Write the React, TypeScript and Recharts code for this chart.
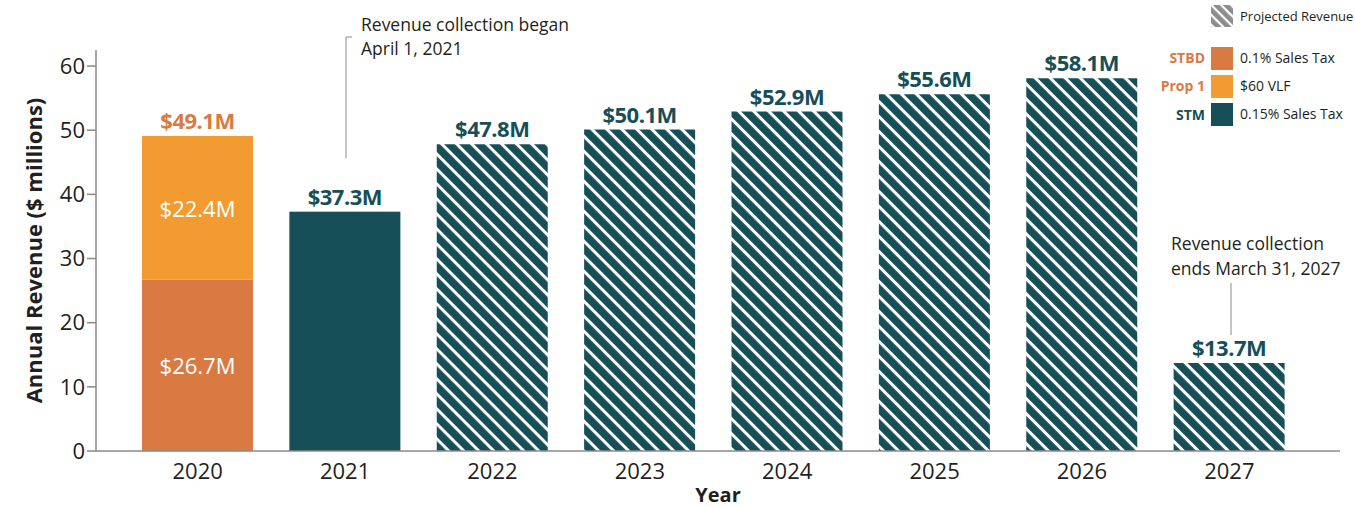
import { BarChart, Bar, XAxis, YAxis, LabelList, Label } from 'recharts'

const years = ['2020', '2021', '2022', '2023', '2024', '2025', '2026', '2027']
const stbdSalesTax = [26.7, null, null, null, null, null, null, null]
const prop1Vlf = [22.4, null, null, null, null, null, null, null]
const stmActual = [null, 37.3, null, null, null, null, null, null]
const stmProjected = [null, null, 47.8, 50.1, 52.9, 55.6, 58.1, 13.7]
const yTicks = [0, 10, 20, 30, 40, 50, 60]

const DARK_ORANGE = '#D97A43'
const LIGHT_ORANGE = '#F19B30'
const TEAL = '#164F58'
const FONT = '"Open Sans", "Noto Sans", sans-serif'

const data = years.map((year, i) => ({
  year,
  stbd: stbdSalesTax[i],
  vlf: prop1Vlf[i],
  stm: stmActual[i],
  projected: stmProjected[i],
  total: stbdSalesTax[i] != null && prop1Vlf[i] != null ? +(stbdSalesTax[i]! + prop1Vlf[i]!).toFixed(1) : null,
}))

const money = (v: number) => `$${v.toFixed(1)}M`

function TopLabel(color: string) {
  return (p: any) => {
    if (p.value == null) return null
    return (
      <text x={p.x + p.width / 2} y={p.y - 7} textAnchor="middle" fill={color}
        fontFamily={FONT} fontWeight={700} fontSize={22} letterSpacing={-0.5}>
        {money(Number(p.value))}
      </text>
    )
  }
}

function InnerLabel(p: any) {
  if (p.value == null) return null
  return (
    <text x={p.x + p.width / 2} y={p.y + p.height / 2} textAnchor="middle" dominantBaseline="central"
      fill="#fff" fontFamily={FONT} fontSize={22}>
      {money(Number(p.value))}
    </text>
  )
}

// 2021 bar sits slightly past the axis line in the source
function ActualShape(p: any) {
  if (!p.height) return null
  return <rect x={p.x} y={p.y} width={p.width} height={p.height + 4} fill={TEAL} />
}

export default function App() {
  return (
    <div style={{ position: 'absolute', left: 0, top: 0, width: 1355, height: 507, background: '#fff', fontFamily: FONT }}>
      <svg width={0} height={0} style={{ position: 'absolute' }}>
        <defs>
          <pattern id="hatch" width={10.6} height={10.6} patternUnits="userSpaceOnUse" patternTransform="rotate(45)">
            <rect width={10.6} height={10.6} fill={TEAL} />
            <rect width={10.6} height={3} fill="#fff" />
          </pattern>
          <pattern id="hatchGray" width={7} height={7} patternUnits="userSpaceOnUse" patternTransform="rotate(45)">
            <rect width={7} height={7} fill="#8c8c8c" />
            <rect width={7} height={2.2} fill="#fff" />
          </pattern>
        </defs>
      </svg>
      <BarChart width={1355} height={507} data={data} margin={{ top: 50, right: 15, bottom: 26, left: 0 }}>
        <XAxis dataKey="year" height={30} axisLine={{ stroke: '#8a8a8a', strokeWidth: 1.5 }} tickLine={false}
          padding={{ left: 28, right: 37 }} tick={{ fill: '#231f20', fontSize: 22, fontFamily: FONT }} dy={4}>
          <Label value="Year" position="insideBottom" offset={-21} fill="#231f20" fontSize={20} fontWeight={700} fontFamily={FONT} />
        </XAxis>
        <YAxis width={96} domain={[0, 62.5]} ticks={yTicks} allowDataOverflow
          axisLine={{ stroke: '#8a8a8a', strokeWidth: 1.5 }} tickLine={{ stroke: '#8a8a8a', strokeWidth: 1.5 }} tickSize={9}
          tick={{ fill: '#231f20', fontSize: 22, fontFamily: FONT }}>
          <Label value="Annual Revenue ($ millions)" angle={-90} position="insideLeft" offset={34} dy={0}
            fill="#231f20" fontSize={22} fontWeight={700} fontFamily={FONT} style={{ textAnchor: 'middle' }} />
        </YAxis>
        <Bar dataKey="stbd" stackId="a" fill={DARK_ORANGE} barSize={111} isAnimationActive={false}>
          <LabelList dataKey="stbd" content={InnerLabel} />
        </Bar>
        <Bar dataKey="vlf" stackId="a" fill={LIGHT_ORANGE} barSize={111} isAnimationActive={false}>
          <LabelList dataKey="vlf" content={InnerLabel} />
          <LabelList dataKey="total" content={TopLabel(DARK_ORANGE)} />
        </Bar>
        <Bar dataKey="stm" stackId="a" fill={TEAL} barSize={111} shape={ActualShape} isAnimationActive={false}>
          <LabelList dataKey="stm" content={TopLabel(TEAL)} />
        </Bar>
        <Bar dataKey="projected" stackId="a" fill="url(#hatch)" barSize={111} isAnimationActive={false}>
          <LabelList dataKey="projected" content={TopLabel(TEAL)} />
        </Bar>
      </BarChart>
      <svg width={1355} height={507} style={{ position: 'absolute', left: 0, top: 0, pointerEvents: 'none' }}>
        {/* annotations */}
        <text x={361} y={31} fontSize={17.5} fill="#231f20" fontFamily={FONT}>Revenue collection began</text>
        <text x={361} y={55} fontSize={17.5} fill="#231f20" fontFamily={FONT}>April 1, 2021</text>
        <polyline points="352,37 346,37 346,158" fill="none" stroke="#8a8a8a" strokeWidth={1} />
        <text x={1171} y={250} fontSize={17.5} fill="#231f20" fontFamily={FONT}>Revenue collection</text>
        <text x={1171} y={275} fontSize={17.5} fill="#231f20" fontFamily={FONT}>ends March 31, 2027</text>
        <line x1={1231} y1={283} x2={1231} y2={335} stroke="#8a8a8a" strokeWidth={1} />
        {/* legend */}
        <rect x={1211} y={5} width={22} height={22} fill="url(#hatchGray)" />
        <text x={1240} y={21} fontSize={13} fill="#231f20" fontFamily={FONT}>Projected Revenue</text>
        <rect x={1211} y={47} width={22} height={23} fill={DARK_ORANGE} />
        <rect x={1211} y={75} width={22} height={23} fill={LIGHT_ORANGE} />
        <rect x={1211} y={103} width={22} height={23} fill={TEAL} />
        <text x={1240} y={63} fontSize={14} fill="#231f20" fontFamily={FONT}>0.1% Sales Tax</text>
        <text x={1240} y={91} fontSize={14} fill="#231f20" fontFamily={FONT}>$60 VLF</text>
        <text x={1240} y={119} fontSize={14} fill="#231f20" fontFamily={FONT}>0.15% Sales Tax</text>
        <text x={1205} y={63} textAnchor="end" fontSize={14} fontWeight={700} fill={DARK_ORANGE} fontFamily={FONT}>STBD</text>
        <text x={1205} y={91} textAnchor="end" fontSize={14} fontWeight={700} fill={DARK_ORANGE} fontFamily={FONT}>Prop 1</text>
        <text x={1205} y={120} textAnchor="end" fontSize={14} fontWeight={700} fill={TEAL} fontFamily={FONT}>STM</text>
      </svg>
    </div>
  )
}
